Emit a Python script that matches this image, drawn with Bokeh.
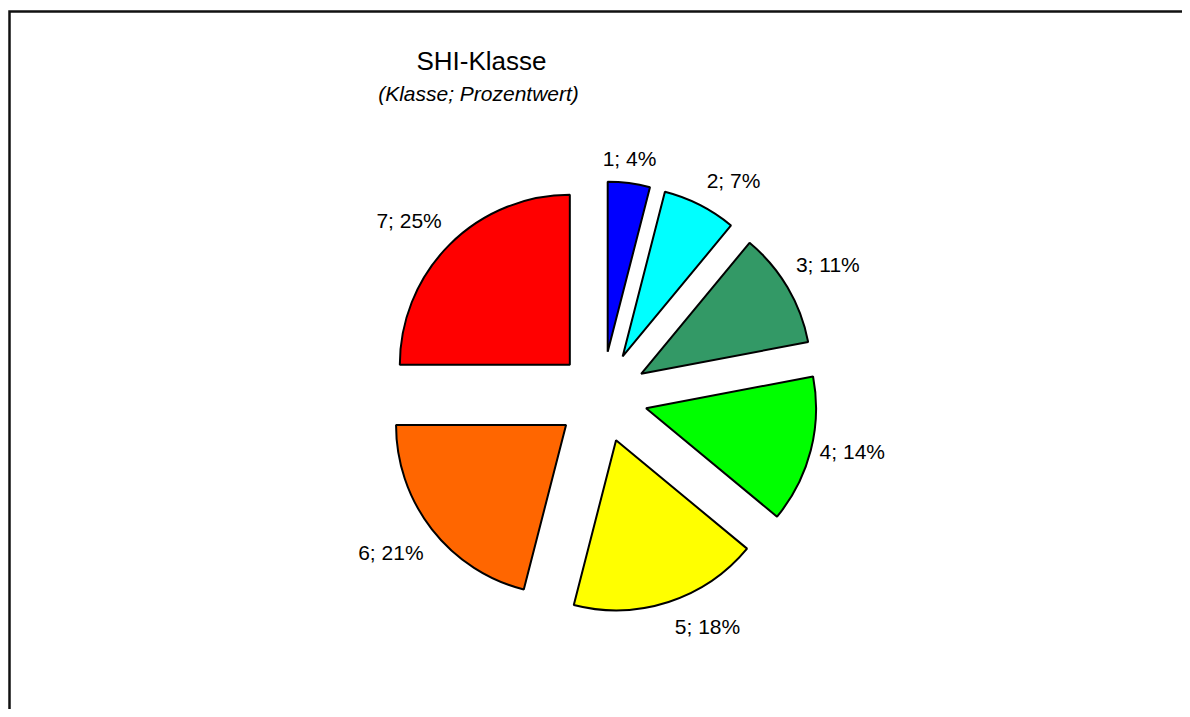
import math
from bokeh.plotting import figure
from bokeh.models import ColumnDataSource, Range1d
from bokeh.core.properties import value
from bokeh.embed import file_html
from bokeh.resources import INLINE

# ---- data ----
classes = ["1", "2", "3", "4", "5", "6", "7"]
percents = [4, 7, 11, 14, 18, 21, 25]
colors = ["#0000FF", "#00FFFF", "#339966", "#00FF00", "#FFFF00", "#FF6600", "#FF0000"]
title_text = "SHI-Klasse"
subtitle_text = "(Klasse; Prozentwert)"

# ---- layout ----
W, H = 1182, 709
FONT = "Liberation Sans"
cx, cy = 601.5, 312.5      # pie centre (data units = pixels)
R = 170.0                   # radius
EXPLODE = 45.5              # explosion distance
FRAME_X, FRAME_Y = 9, H - 11

p = figure(width=W, height=H, output_backend="svg", toolbar_location=None,
           x_range=Range1d(0, W), y_range=Range1d(0, H), min_border=0)
p.axis.visible = False
p.grid.visible = False
p.outline_line_color = None
p.background_fill_color = "white"
p.border_fill_color = "white"

# partial frame (the chart's border runs off the right/bottom of the picture)
p.line(x=[FRAME_X, FRAME_X, W + 5], y=[-5, FRAME_Y, FRAME_Y],
       line_color="#111111", line_width=2.5, line_join="miter")

total = float(sum(percents))
xs, ys, a0s, a1s = [], [], [], []
lx, ly, aligns, labels = [], [], [], []
cum = 0.0
for c, v in zip(classes, percents):
    a0 = math.pi / 2 - 2 * math.pi * cum / total
    cum += v
    a1 = math.pi / 2 - 2 * math.pi * cum / total
    mid = (a0 + a1) / 2
    ox = cx + EXPLODE * math.cos(mid)
    oy = cy + EXPLODE * math.sin(mid)
    xs.append(ox); ys.append(oy); a0s.append(a0); a1s.append(a1)
    px = ox + (R + 4) * math.cos(mid)
    py = oy + (R + 4) * math.sin(mid)
    cs, sn = math.cos(mid), math.sin(mid)
    if abs(cs) < 0.2:
        al, tx = "center", px
    elif cs > 0:
        al, tx = "left", px + 5
    else:
        al, tx = "right", px - 5
    ty = py if abs(sn) < 0.3 else py + 21 * (1 if sn > 0 else -1)
    lx.append(tx); ly.append(ty); aligns.append(al)
    labels.append(f"{c}; {v}%")

src = ColumnDataSource(dict(x=xs, y=ys, start=a0s, end=a1s, color=colors))
p.wedge(x="x", y="y", radius=R, start_angle="start", end_angle="end",
        direction="clock", fill_color="color", line_color="black",
        line_width=2, source=src)

lsrc = ColumnDataSource(dict(x=lx, y=ly, text=labels, align=aligns))
p.text(x="x", y="y", text="text", text_align="align", text_baseline="middle",
       text_font=value(FONT), text_font_size="21px", text_color="black",
       source=lsrc)

# title and subtitle
tsrc = ColumnDataSource(dict(x=[481], y=[649], text=[title_text]))
p.text(x="x", y="y", text="text", text_align="center", text_baseline="middle",
       text_font=value(FONT), text_font_size="26px", text_color="black", source=tsrc)
ssrc = ColumnDataSource(dict(x=[478], y=[616], text=[subtitle_text]))
p.text(x="x", y="y", text="text", text_align="center", text_baseline="middle",
       text_font=value(FONT), text_font_style="italic", text_font_size="21px",
       text_color="black", source=ssrc)

open("out.html", "w").write(file_html(p, INLINE))
